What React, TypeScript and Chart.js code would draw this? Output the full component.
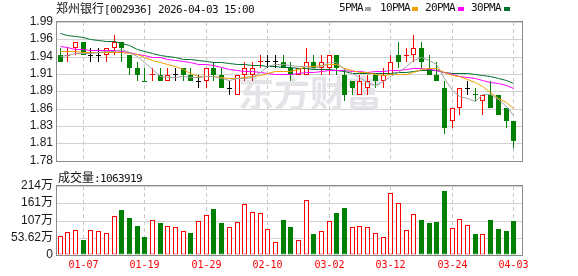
import React, { useEffect, useRef } from 'react';
import { Chart, registerables, LinearScale } from 'chart.js';

// ---------- data ----------
const dates = [
  '12-31', '01-05', '01-06', '01-07', '01-08', '01-09', '01-12', '01-13', '01-14', '01-15',
  '01-16', '01-19', '01-20', '01-21', '01-22', '01-23', '01-26', '01-27', '01-28', '01-29',
  '01-30', '02-02', '02-03', '02-04', '02-05', '02-06', '02-09', '02-10', '02-11', '02-12',
  '02-13', '02-24', '02-25', '02-26', '02-27', '03-02', '03-03', '03-04', '03-05', '03-06',
  '03-09', '03-10', '03-11', '03-12', '03-13', '03-16', '03-17', '03-18', '03-19', '03-20',
  '03-23', '03-24', '03-25', '03-26', '03-27', '03-30', '03-31', '04-01', '04-02', '04-03',
];

const opens = [
  1.94, 1.94, 1.95, 1.96, 1.94, 1.94, 1.94, 1.95, 1.96, 1.94,
  1.92, 1.90, 1.91, 1.91, 1.90, 1.91, 1.92, 1.91, 1.90, 1.90,
  1.92, 1.91, 1.89, 1.88, 1.91, 1.91, 1.93, 1.93, 1.93, 1.93,
  1.92, 1.91, 1.91, 1.93, 1.92, 1.92, 1.94, 1.91, 1.90, 1.88,
  1.89, 1.91, 1.90, 1.91, 1.94, 1.94, 1.94, 1.95, 1.92, 1.91,
  1.89, 1.84, 1.86, 1.89, 1.88, 1.87, 1.88, 1.88, 1.86, 1.84,
];
const highs = [
  1.95, 1.95, 1.96, 1.96, 1.95, 1.95, 1.95, 1.97, 1.96, 1.94,
  1.93, 1.92, 1.92, 1.92, 1.92, 1.92, 1.92, 1.92, 1.91, 1.92,
  1.93, 1.92, 1.90, 1.91, 1.93, 1.93, 1.94, 1.94, 1.94, 1.94,
  1.93, 1.92, 1.95, 1.94, 1.94, 1.94, 1.94, 1.92, 1.90, 1.91,
  1.91, 1.91, 1.92, 1.94, 1.96, 1.95, 1.97, 1.96, 1.94, 1.93,
  1.90, 1.86, 1.89, 1.90, 1.89, 1.88, 1.90, 1.88, 1.86, 1.84,
];
const lows = [
  1.93, 1.93, 1.94, 1.94, 1.93, 1.93, 1.93, 1.94, 1.93, 1.91,
  1.90, 1.90, 1.90, 1.90, 1.90, 1.90, 1.90, 1.90, 1.89, 1.89,
  1.90, 1.89, 1.88, 1.88, 1.90, 1.90, 1.92, 1.92, 1.92, 1.92,
  1.90, 1.91, 1.91, 1.92, 1.91, 1.91, 1.91, 1.87, 1.88, 1.88,
  1.88, 1.89, 1.89, 1.91, 1.92, 1.93, 1.93, 1.92, 1.91, 1.90,
  1.82, 1.83, 1.85, 1.88, 1.87, 1.85, 1.86, 1.85, 1.83, 1.80,
];
const closes = [
  1.93, 1.94, 1.96, 1.94, 1.94, 1.94, 1.95, 1.96, 1.95, 1.92,
  1.91, 1.90, 1.91, 1.90, 1.91, 1.91, 1.91, 1.90, 1.90, 1.92,
  1.91, 1.89, 1.89, 1.91, 1.92, 1.92, 1.93, 1.93, 1.93, 1.92,
  1.91, 1.92, 1.93, 1.92, 1.93, 1.94, 1.92, 1.88, 1.89, 1.90,
  1.90, 1.90, 1.91, 1.93, 1.93, 1.94, 1.95, 1.93, 1.91, 1.90,
  1.83, 1.86, 1.89, 1.89, 1.88, 1.88, 1.86, 1.85, 1.84, 1.81,
];

// volume, in 万 (10k)
const volumes = [
  59.3, 71.8, 77.0, 46.8, 77.0, 73.9, 67.7, 121.8, 140.5, 115.5,
  90.6, 56.2, 108.3, 100.0, 90.6, 87.4, 73.9, 69.7, 105.0, 125.0,
  143.7, 101.0, 86.4, 103.0, 159.0, 134.0, 131.0, 80.0, 40.6, 109.0,
  87.4, 46.8, 171.8, 65.6, 75.0, 106.0, 129.0, 146.8, 87.4, 89.5,
  87.4, 68.7, 56.2, 192.6, 161.0, 78.0, 128.0, 109.0, 101.0, 103.0,
  200.0, 83.3, 111.4, 92.6, 65.6, 65.6, 109.0, 81.2, 75.0, 106.4,
];

const ma5 = [
  1.938, 1.940, 1.942, 1.942, 1.942, 1.944, 1.946, 1.946, 1.948, 1.944,
  1.938, 1.928, 1.918, 1.908, 1.906, 1.906, 1.908, 1.906, 1.906, 1.908,
  1.908, 1.904, 1.902, 1.904, 1.904, 1.906, 1.914, 1.922, 1.926, 1.926,
  1.924, 1.922, 1.922, 1.920, 1.922, 1.928, 1.928, 1.918, 1.912, 1.906,
  1.898, 1.894, 1.900, 1.908, 1.914, 1.922, 1.932, 1.936, 1.932, 1.926,
  1.904, 1.886, 1.878, 1.874, 1.870, 1.880, 1.880, 1.872, 1.862, 1.848,
];
const ma10 = [
  1.945, 1.945, 1.945, 1.944, 1.944, 1.944, 1.944, 1.944, 1.944, 1.943,
  1.941, 1.937, 1.932, 1.928, 1.925, 1.922, 1.918, 1.912, 1.907, 1.907,
  1.907, 1.906, 1.904, 1.905, 1.906, 1.907, 1.909, 1.912, 1.915, 1.915,
  1.915, 1.918, 1.922, 1.923, 1.924, 1.926, 1.925, 1.920, 1.916, 1.914,
  1.913, 1.911, 1.909, 1.910, 1.910, 1.910, 1.913, 1.918, 1.920, 1.920,
  1.913, 1.909, 1.907, 1.903, 1.898, 1.892, 1.883, 1.875, 1.868, 1.859,
];
const ma20 = [
  1.953, 1.951, 1.949, 1.948, 1.947, 1.947, 1.947, 1.947, 1.946, 1.944,
  1.941, 1.939, 1.937, 1.936, 1.934, 1.932, 1.930, 1.928, 1.926, 1.925,
  1.924, 1.9215, 1.918, 1.9165, 1.9155, 1.9145, 1.9135, 1.912, 1.911, 1.911,
  1.911, 1.912, 1.913, 1.914, 1.915, 1.9165, 1.917, 1.916, 1.9155, 1.9145,
  1.914, 1.9145, 1.9155, 1.9165, 1.917, 1.918, 1.919, 1.919, 1.918, 1.917,
  1.913, 1.910, 1.908, 1.9065, 1.904, 1.901, 1.898, 1.8965, 1.894, 1.8895,
];
const ma30 = [
  1.973, 1.970, 1.968, 1.966, 1.964, 1.962, 1.961, 1.960, 1.958, 1.954,
  1.949, 1.946, 1.943, 1.940, 1.938, 1.936, 1.934, 1.933, 1.931, 1.930,
  1.929, 1.928, 1.927, 1.926, 1.925, 1.924, 1.924, 1.923, 1.922, 1.9217,
  1.921, 1.9203, 1.9193, 1.9187, 1.9183, 1.9183, 1.9173, 1.9147, 1.9127, 1.912,
  1.9117, 1.9117, 1.9117, 1.9127, 1.9133, 1.9143, 1.9157, 1.9167, 1.917, 1.9163,
  1.9137, 1.9127, 1.9127, 1.912, 1.9107, 1.9093, 1.907, 1.9043, 1.9013, 1.8977,
];

const labelDates = ['01-07', '01-19', '01-29', '02-10', '03-02', '03-12', '03-24', '04-03'];
const priceTicks = [1.78, 1.80625, 1.8325, 1.85875, 1.885, 1.91125, 1.9375, 1.96375, 1.99];
const priceTickLabels = ['1.78', '1.81', '1.83', '1.86', '1.89', '1.91', '1.94', '1.96', '1.99'];
const volTicks = [0, 53.62, 107.24, 160.86, 214.48];
const volTickLabels = ['0', '53.62万', '107万', '161万', '214万'];

const title = '郑州银行';
const titleCode = '[002936] 2026-04-03 15:00';
const volTitle = '成交量';
const volLatest = ':1063919';
const legendItems = [
  { label: '5PMA', color: '#a0a0a0' },
  { label: '10PMA', color: '#f0a000' },
  { label: '20PMA', color: '#ff00ff' },
  { label: '30PMA', color: '#007030' },
];

// ---------- pixel-snapping linear scales (crisp, un-blurred marks) ----------
class SnapHalf extends LinearScale {
  static id = 'snapHalf';
  static defaults = LinearScale.defaults;
  getPixelForValue(value: number) {
    return Math.floor(super.getPixelForValue(value)) + 0.5;
  }
}
class SnapInt extends LinearScale {
  static id = 'snapInt';
  static defaults = LinearScale.defaults;
  getPixelForValue(value: number) {
    return Math.round(super.getPixelForValue(value));
  }
}
Chart.register(...registerables, SnapHalf, SnapInt);

// ---------- styling ----------
const RED = '#ff0000';
const GREEN = '#008000';
const BLACK = '#000000';
const X_MIN = -0.42;
const X_MAX = 60.08;
const LEFT_W = 57;
const RIGHT_PAD = 56;
const TICK_FONT = { family: '"Liberation Sans", "Noto Sans CJK SC"', size: 12 };

const framePlugin = {
  id: 'frame',
  afterDraw(chart: any) {
    const { ctx, chartArea: a } = chart;
    ctx.save();
    ctx.strokeStyle = '#8c8c8c';
    ctx.lineWidth = 1;
    ctx.strokeRect(Math.round(a.left) - 0.5, Math.round(a.top) - 0.5, Math.round(a.right - a.left) + 1, Math.round(a.bottom - a.top) + 1);
    ctx.restore();
  },
};

const watermarkPlugin = {
  id: 'watermark',
  beforeDatasetsDraw(chart: any) {
    const { ctx } = chart;
    ctx.save();
    ctx.fillStyle = '#e3e3e8';
    ctx.font = 'bold 36px "Noto Sans CJK SC"';
    ctx.textBaseline = 'middle';
    ctx.fillText('东方财富', 238, 93);
    ctx.restore();
  },
};

function xScale(showLabels: boolean, tickIdx: number[]) {
  return {
    type: 'snapHalf',
    min: X_MIN,
    max: X_MAX,
    offset: false,
    afterBuildTicks: (s: any) => {
      s.ticks = tickIdx.map((v) => ({ value: v }));
    },
    afterFit: (s: any) => {
      s.height = showLabels ? 21 : 0;
    },
    ticks: {
      display: showLabels,
      autoSkip: false,
      maxRotation: 0,
      minRotation: 0,
      padding: 4,
      color: RED,
      font: { family: '"DejaVu Sans Mono"', size: 10 },
      callback: (v: any) => dates[v] ?? '',
    },
    grid: { color: '#c8c8c8', drawTicks: false, offset: false, lineWidth: 1 },
    border: { display: false, dash: [4, 3] },
  };
}

function yScale(min: number, max: number, ticks: number[], labels: string[]) {
  return {
    type: 'snapInt',
    position: 'left',
    min,
    max,
    afterBuildTicks: (s: any) => {
      s.ticks = ticks.map((v) => ({ value: v }));
    },
    afterFit: (s: any) => {
      s.width = LEFT_W;
    },
    ticks: {
      autoSkip: false,
      padding: 4,
      color: '#1a1a1a',
      font: TICK_FONT,
      callback: (_v: any, i: number) => labels[i],
    },
    grid: { color: '#d2d2d2', drawTicks: false },
    border: { display: false },
  };
}

export default function App() {
  const mainRef = useRef<HTMLCanvasElement>(null);
  const volRef = useRef<HTMLCanvasElement>(null);

  useEffect(() => {
    const idx = dates.map((_, i) => i);
    const tickIdx = labelDates.map((d) => dates.indexOf(d));

    const candleColor = idx.map((i) => {
      if (closes[i] > opens[i]) return RED;
      if (closes[i] < opens[i]) return GREEN;
      if (i === 0) return BLACK;
      if (closes[i] > closes[i - 1]) return RED;
      if (closes[i] < closes[i - 1]) return GREEN;
      return BLACK;
    });
    const hollow = idx.map((i) => closes[i] > opens[i]);
    const volDown = idx.map((i) => i > 0 && closes[i] < closes[i - 1]);

    const maLine = (data: number[], color: string, order: number) => ({
      type: 'line',
      yAxisID: 'yl',
      data: idx.map((i) => ({ x: i, y: data[i] })),
      borderColor: color,
      borderWidth: 1,
      pointRadius: 0,
      tension: 0,
      fill: false,
      order,
    });

    const main = new Chart(mainRef.current as HTMLCanvasElement, {
      type: 'bar',
      data: {
        datasets: [
          {
            type: 'bar',
            data: idx.map((i) => ({ x: i, y: [lows[i], highs[i]] })),
            backgroundColor: candleColor,
            borderWidth: 0,
            barThickness: 1,
            inflateAmount: 0,
            grouped: false,
            order: 6,
          },
          {
            type: 'bar',
            data: idx.map((i) => {
              const a = Math.min(opens[i], closes[i]);
              const b = Math.max(opens[i], closes[i]);
              if (a === b) return { x: i, y: [a - 0.0008, a + 0.0008] };
              return { x: i, y: [a, b] };
            }),
            backgroundColor: idx.map((i) => (hollow[i] ? '#ffffff' : candleColor[i])),
            borderColor: candleColor,
            borderWidth: 1,
            borderSkipped: false,
            barThickness: 5,
            inflateAmount: 0,
            grouped: false,
            order: 5,
          },
          maLine(ma30, legendItems[3].color, 3),
          maLine(ma20, legendItems[2].color, 2),
          maLine(ma10, legendItems[1].color, 1),
          maLine(ma5, legendItems[0].color, 0),
        ],
      } as any,
      options: {
        animation: false,
        responsive: false,
        devicePixelRatio: 1,
        events: [],
        layout: { padding: { left: 0, top: 22, right: RIGHT_PAD, bottom: 7 } },
        plugins: { legend: { display: false }, tooltip: { enabled: false } },
        scales: {
          x: xScale(false, tickIdx),
          y: yScale(1.78, 1.99, priceTicks, priceTickLabels),
          yl: { type: 'snapHalf', display: false, min: 1.78, max: 1.99 },
        },
      } as any,
      plugins: [watermarkPlugin, framePlugin],
    });

    const vol = new Chart(volRef.current as HTMLCanvasElement, {
      type: 'bar',
      data: {
        datasets: [
          {
            data: idx.map((i) => ({ x: i, y: volumes[i] })),
            backgroundColor: idx.map((i) => (volDown[i] ? GREEN : '#ffffff')),
            borderColor: idx.map((i) => (volDown[i] ? GREEN : RED)),
            borderWidth: 1,
            borderSkipped: false,
            barThickness: 5,
            inflateAmount: 0,
            grouped: false,
          },
        ],
      } as any,
      options: {
        animation: false,
        responsive: false,
        devicePixelRatio: 1,
        events: [],
        layout: { padding: { left: 0, top: 14, right: RIGHT_PAD, bottom: 0 } },
        plugins: { legend: { display: false }, tooltip: { enabled: false } },
        scales: {
          x: xScale(true, tickIdx),
          y: yScale(0, volTicks[volTicks.length - 1], volTicks, volTickLabels),
        },
      } as any,
      plugins: [framePlugin],
    });

    return () => {
      main.destroy();
      vol.destroy();
    };
  }, []);

  const cjk: React.CSSProperties = { fontFamily: '"Noto Sans CJK SC"', fontSize: 12 };
  const mono: React.CSSProperties = { fontFamily: '"DejaVu Sans Mono"', fontSize: 11, letterSpacing: '-0.62px' };
  const legendPos = [
    { text: 339, box: 365 },
    { text: 380, box: 412 },
    { text: 425, box: 458 },
    { text: 471, box: 504 },
  ];

  return (
    <div style={{ position: 'absolute', left: 0, top: 0, width: 578, height: 276, background: '#fff', overflow: 'hidden', color: '#111' }}>
      <canvas ref={mainRef} width={578} height={172} style={{ position: 'absolute', left: 0, top: 0, width: 578, height: 172 }} />
      <canvas ref={volRef} width={578} height={104} style={{ position: 'absolute', left: 0, top: 172, width: 578, height: 104 }} />
      <div style={{ position: 'absolute', left: 56, top: 2, lineHeight: '12px', whiteSpace: 'nowrap' }}>
        <span style={cjk}>{title}</span>
        <span style={mono}>{titleCode}</span>
      </div>
      {legendItems.map((it, k) => (
        <React.Fragment key={it.label}>
          <span style={{ ...mono, position: 'absolute', left: legendPos[k].text, top: 2, lineHeight: '12px', whiteSpace: 'nowrap' }}>{it.label}</span>
          <span style={{ position: 'absolute', left: legendPos[k].box, top: 7, width: 6, height: 4, background: it.color }} />
        </React.Fragment>
      ))}
      <div style={{ position: 'absolute', left: 58, top: 171, lineHeight: '12px', whiteSpace: 'nowrap' }}>
        <span style={cjk}>{volTitle}</span>
        <span style={mono}>{volLatest}</span>
      </div>
    </div>
  );
}
